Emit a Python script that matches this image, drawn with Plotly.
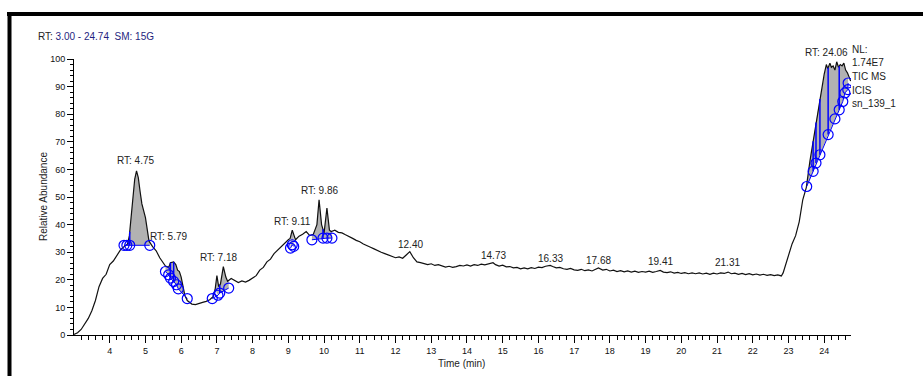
import numpy as np
import plotly.graph_objects as go

# ---------------- data ----------------
time_min = [3.0, 3.1, 3.2, 3.3, 3.4, 3.5, 3.6, 3.7, 3.8, 3.9,
            4.0, 4.1, 4.2, 4.3, 4.4, 4.5, 4.55, 4.6, 4.65, 4.7,
            4.75, 4.8, 4.85, 4.9, 5.0, 5.05, 5.1, 5.2, 5.3, 5.4,
            5.5, 5.56, 5.65, 5.7, 5.79, 5.85, 5.9, 5.95, 6.0, 6.05,
            6.1, 6.17, 6.25, 6.3, 6.4, 6.5, 6.6, 6.7, 6.8, 6.9,
            6.95, 7.0, 7.05, 7.1, 7.18, 7.25, 7.3, 7.4, 7.5, 7.6,
            7.7, 7.8, 7.9, 8.0, 8.1, 8.2, 8.3, 8.4, 8.5, 8.6,
            8.7, 8.8, 8.9, 9.0, 9.05, 9.11, 9.2, 9.3, 9.4, 9.5,
            9.6, 9.7, 9.8, 9.86, 9.93, 10.0, 10.08, 10.15, 10.2, 10.3,
            10.4, 10.5, 10.6, 10.7, 10.8, 10.9, 11.0, 11.1, 11.2, 11.3,
            11.4, 11.5, 11.6, 11.7, 11.8, 11.9, 12.0, 12.1, 12.2, 12.3,
            12.4, 12.5, 12.6, 12.7, 12.8, 12.9, 13.0, 13.1, 13.2, 13.3,
            13.4, 13.5, 13.6, 13.7, 13.8, 13.9, 14.0, 14.1, 14.2, 14.3,
            14.4, 14.5, 14.6, 14.73, 14.8, 14.9, 15.0, 15.1, 15.2, 15.3,
            15.4, 15.5, 15.6, 15.7, 15.8, 15.9, 16.0, 16.1, 16.2, 16.33,
            16.4, 16.5, 16.6, 16.7, 16.8, 16.9, 17.0, 17.1, 17.2, 17.3,
            17.4, 17.5, 17.68, 17.8, 17.9, 18.0, 18.1, 18.2, 18.3, 18.4,
            18.5, 18.6, 18.7, 18.8, 18.9, 19.0, 19.1, 19.2, 19.3, 19.41,
            19.5, 19.6, 19.7, 19.8, 19.9, 20.0, 20.1, 20.2, 20.3, 20.4,
            20.5, 20.6, 20.7, 20.8, 20.9, 21.0, 21.1, 21.2, 21.31, 21.4,
            21.5, 21.6, 21.7, 21.8, 21.9, 22.0, 22.1, 22.2, 22.3, 22.4,
            22.5, 22.6, 22.7, 22.8, 22.85, 22.9, 23.0, 23.1, 23.2, 23.3,
            23.4, 23.5, 23.6, 23.7, 23.8, 23.9, 24.0, 24.06, 24.1, 24.16,
            24.2, 24.25, 24.3, 24.35, 24.4, 24.45, 24.5, 24.55, 24.6, 24.65,
            24.7, 24.74]
rel_abundance = [0.2, 0.8, 2.0, 3.8, 6.0, 8.8, 12.5, 17.5, 20.5, 22.0,
                 25.5, 26.8, 28.8, 30.8, 32.0, 33.0, 36.0, 43.0, 51.0, 56.5,
                 59.5, 57.0, 52.0, 47.5, 42.5, 38.0, 34.0, 32.0, 30.5, 28.0,
                 26.0, 25.0, 24.5, 26.2, 26.5, 25.5, 23.5, 23.0, 21.0, 17.0,
                 14.5, 12.5, 11.5, 11.2, 11.0, 11.3, 11.8, 12.2, 12.8, 14.0,
                 16.5, 21.5, 17.5, 18.5, 24.8, 21.0, 19.5, 20.5, 19.8, 19.0,
                 19.6, 19.2, 19.8, 20.5, 21.5, 23.5, 24.5, 26.5, 27.5, 29.5,
                 30.8, 32.0, 33.5, 34.5, 35.0, 38.0, 34.5, 35.8, 36.5, 37.5,
                 36.0, 36.5, 40.0, 49.0, 40.0, 37.0, 46.0, 38.0, 37.5, 38.0,
                 37.2, 37.0, 36.3, 35.5, 35.0, 34.3, 33.8, 33.0, 32.5, 31.8,
                 31.2, 30.5, 30.0, 29.5, 29.0, 28.5, 28.0, 28.3, 27.8, 29.0,
                 30.2, 28.0, 26.5, 26.2, 25.8, 25.5, 25.8, 25.2, 25.5, 25.0,
                 24.6, 24.9, 24.5, 24.8, 25.2, 25.0, 25.4, 25.0, 25.5, 25.2,
                 25.7, 25.4, 25.8, 26.2, 25.5, 25.0, 25.3, 24.7, 24.8, 24.3,
                 24.5, 24.0, 24.3, 24.0, 24.4, 24.1, 24.6, 24.4, 24.9, 25.2,
                 24.8, 24.3, 24.5, 24.0, 23.8, 24.1, 23.6, 23.4, 23.8, 23.3,
                 23.6, 23.2, 24.3, 23.5, 23.8, 23.2, 23.5, 23.0, 23.3, 22.9,
                 23.2, 22.8, 23.1, 22.7, 23.0, 22.8, 23.1, 22.7, 23.0, 23.4,
                 22.8, 22.6, 22.9, 22.4, 22.7, 22.3, 22.6, 22.2, 22.5, 22.2,
                 22.5, 22.1, 22.4, 22.0, 22.4, 22.1, 22.5, 22.3, 22.8, 22.2,
                 22.4, 22.0, 22.3, 21.9, 22.2, 21.8, 22.1, 21.7, 22.0, 21.6,
                 21.9, 21.5, 21.8, 21.4, 22.5, 24.8, 29.0, 33.0, 36.0, 41.0,
                 49.0, 53.5, 63.0, 71.0, 79.5, 87.0, 94.5, 98.0, 96.5, 98.5,
                 97.0, 97.5, 96.0, 99.0, 97.0, 98.0, 97.5, 98.5, 96.0, 95.0,
                 93.5, 92.0]

# integration markers (blue circles) per peak
peak1_t = [4.40, 4.48, 4.56, 5.12]
peak1_y = [32.5, 32.5, 32.5, 32.5]
peak2_t = [5.56, 5.65, 5.70, 5.79, 5.87, 5.92, 6.17]
peak2_y = [23.0, 21.8, 20.6, 19.4, 18.2, 16.7, 13.2]
peak3_t = [6.87, 7.03, 7.08, 7.33]
peak3_y = [13.2, 14.4, 15.2, 17.0]
peak4_t = [9.06, 9.11, 9.15]
peak4_y = [31.5, 32.7, 32.1]
peak5_t = [9.66, 9.97, 10.08, 10.22]
peak5_y = [34.5, 35.1, 35.1, 35.1]
peak6_t = [23.51, 23.69, 23.77, 23.88, 24.11, 24.30, 24.42, 24.52, 24.58, 24.66, 24.67]
peak6_y = [53.8, 59.3, 62.3, 65.3, 72.6, 78.3, 81.6, 84.6, 87.7, 88.9, 91.3]

# shaded range (start, end) and vertical split lines for each peak
peak_fill = [(4.48, 5.12), (5.56, 6.17), (6.95, 7.33), (9.06, 9.15), (9.66, 10.22), (23.51, 24.67)]
peak_splits = [[4.48, 4.56], [5.70, 5.79], [7.08], [], [9.97], [23.69, 23.77, 23.88, 24.11, 24.42]]

# peak labels
label_text = ["RT: 4.75", "RT: 5.79", "RT: 7.18", "RT: 9.11", "RT: 9.86", "12.40",
              "14.73", "16.33", "17.68", "19.41", "21.31"]
label_t = [4.72, 5.64, 7.04, 9.11, 9.87, 12.41, 14.73, 16.33, 17.67, 19.41, 21.28]
label_y = [63.2, 35.6, 28.0, 41.0, 52.3, 32.7, 28.7, 27.9, 26.9, 26.6, 26.2]

x_tick_vals = list(range(4, 25))
y_tick_vals = list(range(0, 101, 10))

# ---------------- layout geometry ----------------
W_PX, H_PX = 923, 376
L, R, T, B = 74, 72, 59, 41
PW, PH = W_PX - L - R, H_PX - T - B


def px(x):
    return (x - L) / PW


def py(y):
    return (H_PX - B - y) / PH


t_arr = np.array(time_min)
v_arr = np.array(rel_abundance)

fig = go.Figure()

peaks = [(peak1_t, peak1_y), (peak2_t, peak2_y), (peak3_t, peak3_y),
         (peak4_t, peak4_y), (peak5_t, peak5_y), (peak6_t, peak6_y)]

# gray shaded areas
for (pt, pyv), (t0, t1) in zip(peaks, peak_fill):
    mask = (t_arr > t0) & (t_arr < t1)
    ct = [t0] + list(t_arr[mask]) + [t1]
    cv = [np.interp(t0, t_arr, v_arr)] + list(v_arr[mask]) + [np.interp(t1, t_arr, v_arr)]
    bt = [t for t in pt if t0 <= t <= t1]
    bv = [v for t, v in zip(pt, pyv) if t0 <= t <= t1]
    xs = ct + bt[::-1]
    ys = cv + bv[::-1]
    fig.add_trace(go.Scatter(x=xs, y=ys, mode="lines", fill="toself",
                             fillcolor="#b2b2b2", line=dict(width=0),
                             hoverinfo="skip", showlegend=False))

# chromatogram trace
fig.add_trace(go.Scatter(x=time_min, y=rel_abundance, mode="lines",
                         line=dict(color="#111111", width=1.2),
                         showlegend=False))

# blue vertical split lines
for (pt, pyv), splits in zip(peaks, peak_splits):
    for s in splits:
        base = np.interp(s, pt, pyv)
        top = np.interp(s, t_arr, v_arr)
        fig.add_trace(go.Scatter(x=[s, s], y=[base, top], mode="lines",
                                 line=dict(color="#0000ff", width=1.5),
                                 hoverinfo="skip", showlegend=False))

# blue baselines with circle markers
for pt, pyv in peaks:
    fig.add_trace(go.Scatter(x=pt, y=pyv, mode="lines+markers",
                             line=dict(color="#0000ff", width=1),
                             marker=dict(symbol="circle-open", size=10,
                                         color="#0000ff", line=dict(width=1.2)),
                             showlegend=False))

FONT = "Liberation Sans, Arial, sans-serif"

annotations = []
for txt, tx, ty in zip(label_text, label_t, label_y):
    annotations.append(dict(x=tx, y=ty, xref="x", yref="y", text=txt,
                            showarrow=False, xanchor="center", yanchor="middle",
                            font=dict(size=10, color="#222222", family=FONT)))

annotations += [
    dict(x=px(36), y=py(36), xref="paper", yref="paper",
         text="RT: <span style='color:#1f1f80'>3.00 - 24.74  SM: 15G</span>",
         showarrow=False, xanchor="left", yanchor="middle",
         font=dict(size=10, color="#222222", family=FONT)),
    dict(x=px(826), y=py(52), xref="paper", yref="paper", text="RT: 24.06",
         showarrow=False, xanchor="center", yanchor="middle",
         font=dict(size=10, color="#222222", family=FONT)),
    dict(x=px(43), y=py(197), xref="paper", yref="paper", text="Relative Abundance",
         textangle=-90, showarrow=False, xanchor="center", yanchor="middle",
         font=dict(size=10, color="#222222", family=FONT)),
    dict(x=px(461), y=py(363), xref="paper", yref="paper", text="Time (min)",
         showarrow=False, xanchor="center", yanchor="middle",
         font=dict(size=10, color="#222222", family=FONT)),
]
for txt, yy in zip(["NL:", "1.74E7", "TIC MS", "ICIS", "sn_139_1"], [49, 62, 76, 90, 103]):
    annotations.append(dict(x=px(850), y=py(yy), xref="paper", yref="paper", text=txt,
                            showarrow=False, xanchor="left", yanchor="middle",
                            font=dict(size=10, color="#222222", family=FONT)))

minor_x = [round(v, 1) for v in np.arange(3.2, 24.75, 0.2) if abs(v - round(v)) > 1e-6]
minor_y = [v for v in range(2, 100, 2) if v % 10 != 0]

fig.update_layout(
    width=W_PX, height=H_PX,
    margin=dict(l=L, r=R, t=T, b=B),
    paper_bgcolor="white", plot_bgcolor="white",
    font=dict(family=FONT, size=9, color="#111111"),
    annotations=annotations,
    shapes=[
        dict(type="line", xref="paper", yref="paper", x0=px(7), x1=px(930),
             y0=py(14), y1=py(14), line=dict(color="black", width=4), layer="above"),
        dict(type="line", xref="paper", yref="paper", x0=px(9.5), x1=px(9.5),
             y0=py(12), y1=py(400), line=dict(color="black", width=4), layer="above"),
    ],
    xaxis=dict(range=[3.0, 24.75], showgrid=False, zeroline=False,
               showline=True, linecolor="black", linewidth=1,
               tickmode="array", tickvals=x_tick_vals,
               ticks="outside", ticklen=7, tickwidth=1, tickcolor="black",
               tickfont=dict(size=9, color="#111111", family=FONT),
               minor=dict(tickmode="array", tickvals=minor_x, ticks="outside",
                          ticklen=4, tickwidth=1, tickcolor="black", showgrid=False)),
    yaxis=dict(range=[0, 100], showgrid=False, zeroline=False,
               showline=True, linecolor="black", linewidth=1,
               tickmode="array", tickvals=y_tick_vals,
               ticks="outside", ticklen=6, tickwidth=1, tickcolor="black",
               tickfont=dict(size=9, color="#111111", family=FONT),
               minor=dict(tickmode="array", tickvals=minor_y, ticks="outside",
                          ticklen=3, tickwidth=1, tickcolor="black", showgrid=False)),
)

fig.write_html("out.html")
